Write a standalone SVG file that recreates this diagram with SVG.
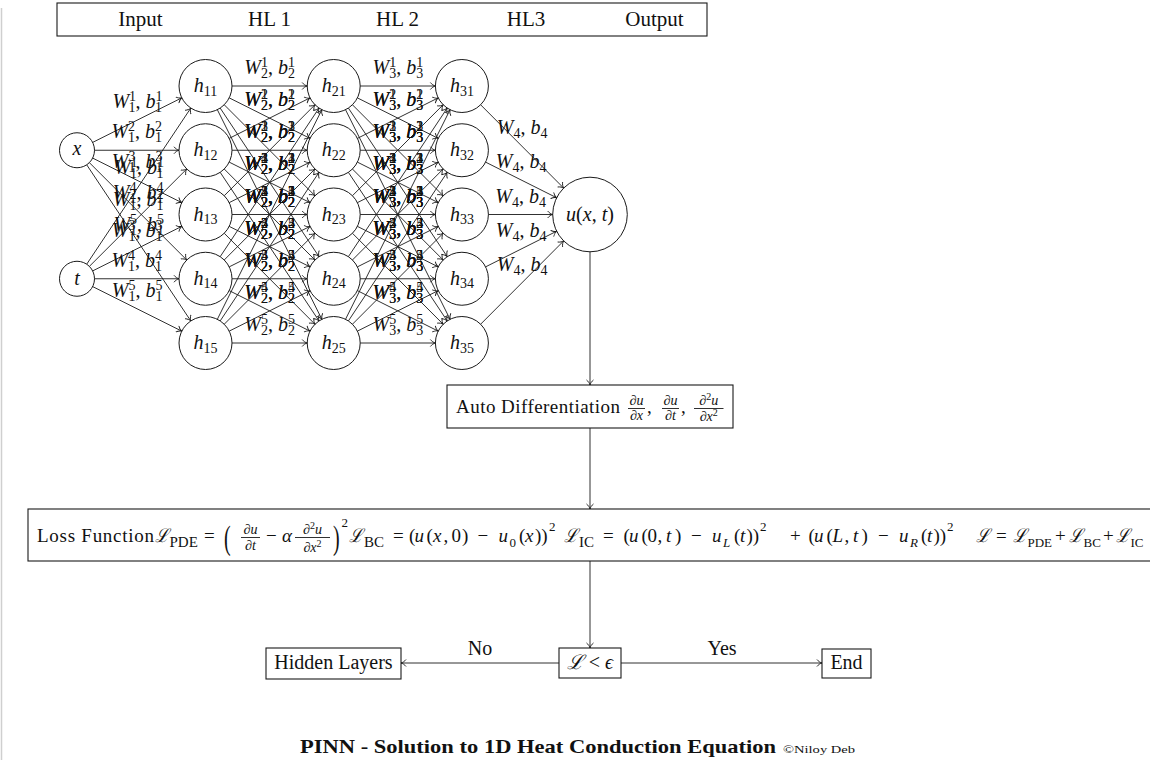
<svg xmlns="http://www.w3.org/2000/svg" width="1150" height="760" viewBox="0 0 1150 760">
<style>
.t{font-family:"Liberation Serif","DejaVu Serif",serif;font-size:19px;fill:#111}
.lb{font-size:20px}
.i{font-style:italic}
.n{font-style:normal}
.sc{font-size:13px;font-style:normal}
.ls{font-size:14px;font-style:normal}
.fr{font-size:14px}
.ln{stroke:#1a1a1a;stroke-width:0.9;fill:none}
.ed line{stroke:#1a1a1a;stroke-width:0.9;marker-end:url(#ar)}
.nd{fill:none;stroke:#1a1a1a;stroke-width:1}
.bx{fill:#fff;stroke:#1a1a1a;stroke-width:1.1}
</style>
<defs>
<marker id="ar" viewBox="-6 -4 7 8" refX="0" refY="0" markerWidth="7" markerHeight="8" orient="auto" markerUnits="userSpaceOnUse"><path d="M-4.8,-3.2 C-3.6,-1.6 -1.6,-0.4 0,0 C-1.6,0.4 -3.6,1.6 -4.8,3.2" fill="none" stroke="#1a1a1a" stroke-width="0.9" stroke-linecap="round"/></marker>
<text id="w1_1" class="t lb i" text-anchor="middle">W<tspan class="ls" dy="-7">1</tspan><tspan class="ls" dx="-7" dy="11">1</tspan><tspan class="n" dy="-4">, </tspan>b<tspan class="ls" dy="-7">1</tspan><tspan class="ls" dx="-7" dy="11">1</tspan></text>
<text id="w1_2" class="t lb i" text-anchor="middle">W<tspan class="ls" dy="-7">2</tspan><tspan class="ls" dx="-7" dy="11">1</tspan><tspan class="n" dy="-4">, </tspan>b<tspan class="ls" dy="-7">2</tspan><tspan class="ls" dx="-7" dy="11">1</tspan></text>
<text id="w1_3" class="t lb i" text-anchor="middle">W<tspan class="ls" dy="-7">3</tspan><tspan class="ls" dx="-7" dy="11">1</tspan><tspan class="n" dy="-4">, </tspan>b<tspan class="ls" dy="-7">3</tspan><tspan class="ls" dx="-7" dy="11">1</tspan></text>
<text id="w1_4" class="t lb i" text-anchor="middle">W<tspan class="ls" dy="-7">4</tspan><tspan class="ls" dx="-7" dy="11">1</tspan><tspan class="n" dy="-4">, </tspan>b<tspan class="ls" dy="-7">4</tspan><tspan class="ls" dx="-7" dy="11">1</tspan></text>
<text id="w1_5" class="t lb i" text-anchor="middle">W<tspan class="ls" dy="-7">5</tspan><tspan class="ls" dx="-7" dy="11">1</tspan><tspan class="n" dy="-4">, </tspan>b<tspan class="ls" dy="-7">5</tspan><tspan class="ls" dx="-7" dy="11">1</tspan></text>
<text id="w2_1" class="t lb i" text-anchor="middle">W<tspan class="ls" dy="-7">1</tspan><tspan class="ls" dx="-7" dy="11">2</tspan><tspan class="n" dy="-4">, </tspan>b<tspan class="ls" dy="-7">1</tspan><tspan class="ls" dx="-7" dy="11">2</tspan></text>
<text id="w2_2" class="t lb i" text-anchor="middle">W<tspan class="ls" dy="-7">2</tspan><tspan class="ls" dx="-7" dy="11">2</tspan><tspan class="n" dy="-4">, </tspan>b<tspan class="ls" dy="-7">2</tspan><tspan class="ls" dx="-7" dy="11">2</tspan></text>
<text id="w2_3" class="t lb i" text-anchor="middle">W<tspan class="ls" dy="-7">3</tspan><tspan class="ls" dx="-7" dy="11">2</tspan><tspan class="n" dy="-4">, </tspan>b<tspan class="ls" dy="-7">3</tspan><tspan class="ls" dx="-7" dy="11">2</tspan></text>
<text id="w2_4" class="t lb i" text-anchor="middle">W<tspan class="ls" dy="-7">4</tspan><tspan class="ls" dx="-7" dy="11">2</tspan><tspan class="n" dy="-4">, </tspan>b<tspan class="ls" dy="-7">4</tspan><tspan class="ls" dx="-7" dy="11">2</tspan></text>
<text id="w2_5" class="t lb i" text-anchor="middle">W<tspan class="ls" dy="-7">5</tspan><tspan class="ls" dx="-7" dy="11">2</tspan><tspan class="n" dy="-4">, </tspan>b<tspan class="ls" dy="-7">5</tspan><tspan class="ls" dx="-7" dy="11">2</tspan></text>
<text id="w3_1" class="t lb i" text-anchor="middle">W<tspan class="ls" dy="-7">1</tspan><tspan class="ls" dx="-7" dy="11">3</tspan><tspan class="n" dy="-4">, </tspan>b<tspan class="ls" dy="-7">1</tspan><tspan class="ls" dx="-7" dy="11">3</tspan></text>
<text id="w3_2" class="t lb i" text-anchor="middle">W<tspan class="ls" dy="-7">2</tspan><tspan class="ls" dx="-7" dy="11">3</tspan><tspan class="n" dy="-4">, </tspan>b<tspan class="ls" dy="-7">2</tspan><tspan class="ls" dx="-7" dy="11">3</tspan></text>
<text id="w3_3" class="t lb i" text-anchor="middle">W<tspan class="ls" dy="-7">3</tspan><tspan class="ls" dx="-7" dy="11">3</tspan><tspan class="n" dy="-4">, </tspan>b<tspan class="ls" dy="-7">3</tspan><tspan class="ls" dx="-7" dy="11">3</tspan></text>
<text id="w3_4" class="t lb i" text-anchor="middle">W<tspan class="ls" dy="-7">4</tspan><tspan class="ls" dx="-7" dy="11">3</tspan><tspan class="n" dy="-4">, </tspan>b<tspan class="ls" dy="-7">4</tspan><tspan class="ls" dx="-7" dy="11">3</tspan></text>
<text id="w3_5" class="t lb i" text-anchor="middle">W<tspan class="ls" dy="-7">5</tspan><tspan class="ls" dx="-7" dy="11">3</tspan><tspan class="n" dy="-4">, </tspan>b<tspan class="ls" dy="-7">5</tspan><tspan class="ls" dx="-7" dy="11">3</tspan></text>
<text id="w4" class="t lb i" text-anchor="middle">W<tspan class="ls" dy="4">4</tspan><tspan class="n" dy="-4">, </tspan>b<tspan class="ls" dy="4">4</tspan></text>
</defs>

<line x1="1.5" y1="8" x2="1.5" y2="760" stroke="#cfcfcf" stroke-width="1.5"/>

<g id="header">
<rect class="bx" x="57" y="3" width="650" height="33"/>
<text class="t" style="font-size:21px" x="140.5" y="26" text-anchor="middle">Input</text>
<text class="t" style="font-size:21px" x="269.5" y="26" text-anchor="middle">HL 1</text>
<text class="t" style="font-size:21px" x="397.5" y="26" text-anchor="middle">HL 2</text>
<text class="t" style="font-size:21px" x="526" y="26" text-anchor="middle">HL3</text>
<text class="t" style="font-size:21px" x="654.5" y="26" text-anchor="middle">Output</text>
</g>

<g id="connectors" class="ed">
<line x1="92.65" y1="142.42" x2="181.8" y2="97.85"/>
<line x1="94.5" y1="150.25" x2="179" y2="150.25"/>
<line x1="92.65" y1="158.08" x2="181.8" y2="202.65"/>
<line x1="89.37" y1="162.62" x2="186.76" y2="260.01"/>
<line x1="86.71" y1="164.81" x2="190.8" y2="320.95"/>
<line x1="86.71" y1="264.19" x2="190.8" y2="108.05"/>
<line x1="89.37" y1="266.38" x2="186.76" y2="168.99"/>
<line x1="92.65" y1="270.92" x2="181.8" y2="226.35"/>
<line x1="94.5" y1="278.75" x2="179" y2="278.75"/>
<line x1="92.65" y1="286.58" x2="181.8" y2="331.15"/>

<line x1="232" y1="86" x2="307.2" y2="86"/>
<line x1="229.19" y1="97.87" x2="310.01" y2="138.38"/>
<line x1="224.22" y1="104.76" x2="314.98" y2="195.74"/>
<line x1="220.18" y1="108.07" x2="319.02" y2="256.68"/>
<line x1="217.33" y1="109.71" x2="321.87" y2="319.29"/>
<line x1="229.19" y1="138.38" x2="310.01" y2="97.87"/>
<line x1="232" y1="150.25" x2="307.2" y2="150.25"/>
<line x1="229.19" y1="162.12" x2="310.01" y2="202.63"/>
<line x1="224.22" y1="169.01" x2="314.98" y2="259.99"/>
<line x1="220.18" y1="172.32" x2="319.02" y2="320.93"/>
<line x1="224.22" y1="195.74" x2="314.98" y2="104.76"/>
<line x1="229.19" y1="202.63" x2="310.01" y2="162.12"/>
<line x1="232" y1="214.5" x2="307.2" y2="214.5"/>
<line x1="229.19" y1="226.37" x2="310.01" y2="266.88"/>
<line x1="224.22" y1="233.26" x2="314.98" y2="324.24"/>
<line x1="220.18" y1="256.68" x2="319.02" y2="108.07"/>
<line x1="224.22" y1="259.99" x2="314.98" y2="169.01"/>
<line x1="229.19" y1="266.88" x2="310.01" y2="226.37"/>
<line x1="232" y1="278.75" x2="307.2" y2="278.75"/>
<line x1="229.19" y1="290.62" x2="310.01" y2="331.13"/>
<line x1="217.33" y1="319.29" x2="321.87" y2="109.71"/>
<line x1="220.18" y1="320.93" x2="319.02" y2="172.32"/>
<line x1="224.22" y1="324.24" x2="314.98" y2="233.26"/>
<line x1="229.19" y1="331.13" x2="310.01" y2="290.62"/>
<line x1="232" y1="343" x2="307.2" y2="343"/>

<line x1="360.2" y1="86" x2="435.4" y2="86"/>
<line x1="357.39" y1="97.87" x2="438.21" y2="138.38"/>
<line x1="352.42" y1="104.76" x2="443.18" y2="195.74"/>
<line x1="348.38" y1="108.07" x2="447.22" y2="256.68"/>
<line x1="345.53" y1="109.71" x2="450.07" y2="319.29"/>
<line x1="357.39" y1="138.38" x2="438.21" y2="97.87"/>
<line x1="360.2" y1="150.25" x2="435.4" y2="150.25"/>
<line x1="357.39" y1="162.12" x2="438.21" y2="202.63"/>
<line x1="352.42" y1="169.01" x2="443.18" y2="259.99"/>
<line x1="348.38" y1="172.32" x2="447.22" y2="320.93"/>
<line x1="352.42" y1="195.74" x2="443.18" y2="104.76"/>
<line x1="357.39" y1="202.63" x2="438.21" y2="162.12"/>
<line x1="360.2" y1="214.5" x2="435.4" y2="214.5"/>
<line x1="357.39" y1="226.37" x2="438.21" y2="266.88"/>
<line x1="352.42" y1="233.26" x2="443.18" y2="324.24"/>
<line x1="348.38" y1="256.68" x2="447.22" y2="108.07"/>
<line x1="352.42" y1="259.99" x2="443.18" y2="169.01"/>
<line x1="357.39" y1="266.88" x2="438.21" y2="226.37"/>
<line x1="360.2" y1="278.75" x2="435.4" y2="278.75"/>
<line x1="357.39" y1="290.62" x2="438.21" y2="331.13"/>
<line x1="345.53" y1="319.29" x2="450.07" y2="109.71"/>
<line x1="348.38" y1="320.93" x2="447.22" y2="172.32"/>
<line x1="352.42" y1="324.24" x2="443.18" y2="233.26"/>
<line x1="357.39" y1="331.13" x2="438.21" y2="290.62"/>
<line x1="360.2" y1="343" x2="435.4" y2="343"/>

<line x1="480.61" y1="104.77" x2="563.67" y2="188.08"/>
<line x1="485.59" y1="162.13" x2="556.66" y2="197.78"/>
<line x1="488.4" y1="214.5" x2="552.7" y2="214.5"/>
<line x1="485.59" y1="266.87" x2="556.66" y2="231.22"/>
<line x1="480.61" y1="324.23" x2="563.67" y2="240.92"/>

<line x1="590" y1="251.8" x2="590" y2="385"/>
<line x1="590" y1="428" x2="590" y2="509"/>
<line x1="590" y1="561" x2="590" y2="648"/>
<line x1="559" y1="663" x2="401" y2="663"/>
<line x1="621" y1="663" x2="822" y2="663"/>
</g>

<g id="edge-labels">
<use href="#w1_1" x="137.2" y="108.1"/>
<use href="#w1_2" x="136.75" y="138.25"/>
<use href="#w1_3" x="137.2" y="168.4"/>
<use href="#w1_4" x="138.07" y="199.3"/>
<use href="#w1_5" x="138.75" y="230.9"/>
<use href="#w1_1" x="138.75" y="174.1"/>
<use href="#w1_2" x="138.07" y="205.7"/>
<use href="#w1_3" x="137.2" y="236.6"/>
<use href="#w1_4" x="136.75" y="266.75"/>
<use href="#w1_5" x="137.2" y="296.9"/>

<use href="#w2_1" x="269.6" y="74"/>
<use href="#w2_2" x="269.6" y="106.1"/>
<use href="#w2_3" x="269.6" y="138.25"/>
<use href="#w2_4" x="269.6" y="170.4"/>
<use href="#w2_5" x="269.6" y="202.5"/>
<use href="#w2_1" x="269.6" y="106.1"/>
<use href="#w2_2" x="269.6" y="138.25"/>
<use href="#w2_3" x="269.6" y="170.4"/>
<use href="#w2_4" x="269.6" y="202.5"/>
<use href="#w2_5" x="269.6" y="234.6"/>
<use href="#w2_1" x="269.6" y="138.25"/>
<use href="#w2_2" x="269.6" y="170.4"/>
<use href="#w2_3" x="269.6" y="202.5"/>
<use href="#w2_4" x="269.6" y="234.6"/>
<use href="#w2_5" x="269.6" y="266.75"/>
<use href="#w2_1" x="269.6" y="170.4"/>
<use href="#w2_2" x="269.6" y="202.5"/>
<use href="#w2_3" x="269.6" y="234.6"/>
<use href="#w2_4" x="269.6" y="266.75"/>
<use href="#w2_5" x="269.6" y="298.9"/>
<use href="#w2_1" x="269.6" y="202.5"/>
<use href="#w2_2" x="269.6" y="234.6"/>
<use href="#w2_3" x="269.6" y="266.75"/>
<use href="#w2_4" x="269.6" y="298.9"/>
<use href="#w2_5" x="269.6" y="331"/>

<use href="#w3_1" x="397.8" y="74"/>
<use href="#w3_2" x="397.8" y="106.1"/>
<use href="#w3_3" x="397.8" y="138.25"/>
<use href="#w3_4" x="397.8" y="170.4"/>
<use href="#w3_5" x="397.8" y="202.5"/>
<use href="#w3_1" x="397.8" y="106.1"/>
<use href="#w3_2" x="397.8" y="138.25"/>
<use href="#w3_3" x="397.8" y="170.4"/>
<use href="#w3_4" x="397.8" y="202.5"/>
<use href="#w3_5" x="397.8" y="234.6"/>
<use href="#w3_1" x="397.8" y="138.25"/>
<use href="#w3_2" x="397.8" y="170.4"/>
<use href="#w3_3" x="397.8" y="202.5"/>
<use href="#w3_4" x="397.8" y="234.6"/>
<use href="#w3_5" x="397.8" y="266.75"/>
<use href="#w3_1" x="397.8" y="170.4"/>
<use href="#w3_2" x="397.8" y="202.5"/>
<use href="#w3_3" x="397.8" y="234.6"/>
<use href="#w3_4" x="397.8" y="266.75"/>
<use href="#w3_5" x="397.8" y="298.9"/>
<use href="#w3_1" x="397.8" y="202.5"/>
<use href="#w3_2" x="397.8" y="234.6"/>
<use href="#w3_3" x="397.8" y="266.75"/>
<use href="#w3_4" x="397.8" y="298.9"/>
<use href="#w3_5" x="397.8" y="331"/>

<use href="#w4" x="522.1" y="134.4"/>
<use href="#w4" x="521.1" y="168"/>
<use href="#w4" x="520.6" y="202.5"/>
<use href="#w4" x="521.1" y="237"/>
<use href="#w4" x="522.1" y="270.6"/>

<text class="t" style="font-size:20px" x="480" y="655" text-anchor="middle">No</text>
<text class="t" style="font-size:20px" x="722" y="655" text-anchor="middle">Yes</text>
</g>

<g id="n-x"><circle class="nd" cx="77" cy="150.25" r="17.5"/><text class="t lb i" x="77" y="155" text-anchor="middle">x</text></g>
<g id="n-t"><circle class="nd" cx="77" cy="278.75" r="17.5"/><text class="t lb i" x="77" y="285" text-anchor="middle">t</text></g>

<g id="n-h11"><circle class="nd" cx="205.5" cy="86" r="26.5"/><text class="t lb" x="205.5" y="92" text-anchor="middle"><tspan class="i">h</tspan><tspan class="ls" dy="3.5">11</tspan></text></g>
<g id="n-h12"><circle class="nd" cx="205.5" cy="150.25" r="26.5"/><text class="t lb" x="205.5" y="156.25" text-anchor="middle"><tspan class="i">h</tspan><tspan class="ls" dy="3.5">12</tspan></text></g>
<g id="n-h13"><circle class="nd" cx="205.5" cy="214.5" r="26.5"/><text class="t lb" x="205.5" y="220.5" text-anchor="middle"><tspan class="i">h</tspan><tspan class="ls" dy="3.5">13</tspan></text></g>
<g id="n-h14"><circle class="nd" cx="205.5" cy="278.75" r="26.5"/><text class="t lb" x="205.5" y="284.75" text-anchor="middle"><tspan class="i">h</tspan><tspan class="ls" dy="3.5">14</tspan></text></g>
<g id="n-h15"><circle class="nd" cx="205.5" cy="343" r="26.5"/><text class="t lb" x="205.5" y="349" text-anchor="middle"><tspan class="i">h</tspan><tspan class="ls" dy="3.5">15</tspan></text></g>

<g id="n-h21"><circle class="nd" cx="333.7" cy="86" r="26.5"/><text class="t lb" x="333.7" y="92" text-anchor="middle"><tspan class="i">h</tspan><tspan class="ls" dy="3.5">21</tspan></text></g>
<g id="n-h22"><circle class="nd" cx="333.7" cy="150.25" r="26.5"/><text class="t lb" x="333.7" y="156.25" text-anchor="middle"><tspan class="i">h</tspan><tspan class="ls" dy="3.5">22</tspan></text></g>
<g id="n-h23"><circle class="nd" cx="333.7" cy="214.5" r="26.5"/><text class="t lb" x="333.7" y="220.5" text-anchor="middle"><tspan class="i">h</tspan><tspan class="ls" dy="3.5">23</tspan></text></g>
<g id="n-h24"><circle class="nd" cx="333.7" cy="278.75" r="26.5"/><text class="t lb" x="333.7" y="284.75" text-anchor="middle"><tspan class="i">h</tspan><tspan class="ls" dy="3.5">24</tspan></text></g>
<g id="n-h25"><circle class="nd" cx="333.7" cy="343" r="26.5"/><text class="t lb" x="333.7" y="349" text-anchor="middle"><tspan class="i">h</tspan><tspan class="ls" dy="3.5">25</tspan></text></g>

<g id="n-h31"><circle class="nd" cx="461.9" cy="86" r="26.5"/><text class="t lb" x="461.9" y="92" text-anchor="middle"><tspan class="i">h</tspan><tspan class="ls" dy="3.5">31</tspan></text></g>
<g id="n-h32"><circle class="nd" cx="461.9" cy="150.25" r="26.5"/><text class="t lb" x="461.9" y="156.25" text-anchor="middle"><tspan class="i">h</tspan><tspan class="ls" dy="3.5">32</tspan></text></g>
<g id="n-h33"><circle class="nd" cx="461.9" cy="214.5" r="26.5"/><text class="t lb" x="461.9" y="220.5" text-anchor="middle"><tspan class="i">h</tspan><tspan class="ls" dy="3.5">33</tspan></text></g>
<g id="n-h34"><circle class="nd" cx="461.9" cy="278.75" r="26.5"/><text class="t lb" x="461.9" y="284.75" text-anchor="middle"><tspan class="i">h</tspan><tspan class="ls" dy="3.5">34</tspan></text></g>
<g id="n-h35"><circle class="nd" cx="461.9" cy="343" r="26.5"/><text class="t lb" x="461.9" y="349" text-anchor="middle"><tspan class="i">h</tspan><tspan class="ls" dy="3.5">35</tspan></text></g>

<g id="n-u"><circle class="nd" cx="590" cy="214.5" r="37.3"/><text class="t lb" x="590" y="220.5" text-anchor="middle"><tspan class="i">u</tspan>(<tspan class="i">x</tspan>, <tspan class="i">t</tspan>)</text></g>

<g id="n-autodiff">
<rect class="bx" x="447" y="385" width="286" height="43"/>
<text class="t" x="456" y="413" textLength="164">Auto Differentiation</text>
<text class="t fr" x="636.5" y="404.5" text-anchor="middle">∂<tspan class="i">u</tspan></text>
<line class="ln" x1="628" y1="408.5" x2="645" y2="408.5"/>
<text class="t fr" x="636.5" y="419.5" text-anchor="middle">∂<tspan class="i">x</tspan></text>
<text class="t" x="647" y="413">,</text>
<text class="t fr" x="670.5" y="404.5" text-anchor="middle">∂<tspan class="i">u</tspan></text>
<line class="ln" x1="662" y1="408.5" x2="679" y2="408.5"/>
<text class="t fr" x="670.5" y="419.5" text-anchor="middle">∂<tspan class="i">t</tspan></text>
<text class="t" x="681" y="413">,</text>
<text class="t fr" x="708.7" y="404.5" text-anchor="middle">∂<tspan font-size="10" dy="-5">2</tspan><tspan class="i" dy="5">u</tspan></text>
<line class="ln" x1="694" y1="408.5" x2="723.5" y2="408.5"/>
<text class="t fr" x="708.7" y="421" text-anchor="middle">∂<tspan class="i">x</tspan><tspan font-size="10" dy="-5">2</tspan></text>
</g>

<g id="n-loss">
<rect class="bx" x="28" y="509" width="1140" height="52"/>
<text class="t" x="37" y="542" textLength="117">Loss Function</text>
<text class="t"><tspan class="i" x="155" y="542" textLength="14" lengthAdjust="spacingAndGlyphs">ℒ</tspan><tspan font-size="15" x="169.5" y="546.5">PDE</tspan><tspan x="204" y="542">=</tspan></text>
<text class="t" style="font-size:20px" transform="translate(224,549) scale(1,1.7)">(</text>
<text class="t fr" x="250.5" y="533.5" text-anchor="middle">∂<tspan class="i">u</tspan></text>
<line class="ln" x1="241" y1="537.5" x2="260" y2="537.5"/>
<text class="t fr" x="250.5" y="550" text-anchor="middle">∂<tspan class="i">t</tspan></text>
<text class="t"><tspan x="266" y="542">−</tspan><tspan class="i" x="282" y="542">α</tspan></text>
<text class="t fr" x="312.5" y="533.5" text-anchor="middle">∂<tspan font-size="10" dy="-5">2</tspan><tspan class="i" dy="5">u</tspan></text>
<line class="ln" x1="295" y1="537.5" x2="330" y2="537.5"/>
<text class="t fr" x="312.5" y="551.5" text-anchor="middle">∂<tspan class="i">x</tspan><tspan font-size="10" dy="-5">2</tspan></text>
<text class="t" style="font-size:20px" transform="translate(333,549) scale(1,1.7)">)</text>
<text class="t"><tspan font-size="13" x="341.5" y="527">2</tspan><tspan class="i" x="349" y="542" textLength="14" lengthAdjust="spacingAndGlyphs">ℒ</tspan><tspan font-size="15" x="364" y="546.5">BC</tspan><tspan x="393" y="542">=</tspan></text>
<text class="t"><tspan x="409" y="542">(</tspan><tspan class="i" x="414.5" y="542">u</tspan><tspan x="426.5" y="542">(</tspan><tspan class="i" x="433" y="542">x</tspan><tspan x="443.5" y="542">,</tspan><tspan x="451.5" y="542">0</tspan><tspan x="462" y="542">)</tspan><tspan x="477.5" y="542">−</tspan><tspan class="i" x="498.5" y="542">u</tspan><tspan font-size="13" x="509.5" y="546.5">0</tspan><tspan x="519" y="542">(</tspan><tspan class="i" x="525" y="542">x</tspan><tspan x="535" y="542">))</tspan><tspan font-size="13" x="549" y="531">2</tspan></text>
<text class="t"><tspan class="i" x="564" y="542" textLength="14" lengthAdjust="spacingAndGlyphs">ℒ</tspan><tspan font-size="15" x="579" y="546.5">IC</tspan><tspan x="603" y="542">=</tspan></text>
<text class="t"><tspan x="623.5" y="542">(</tspan><tspan class="i" x="629" y="542">u</tspan><tspan x="641.5" y="542">(</tspan><tspan x="647.5" y="542">0</tspan><tspan x="657.5" y="542">,</tspan><tspan class="i" x="666" y="542">t</tspan><tspan x="675" y="542">)</tspan><tspan x="691" y="542">−</tspan><tspan class="i" x="712" y="542">u</tspan><tspan class="i" font-size="13" x="723" y="546.5">L</tspan><tspan x="734" y="542">(</tspan><tspan class="i" x="740" y="542">t</tspan><tspan x="746.5" y="542">))</tspan><tspan font-size="13" x="760" y="531">2</tspan></text>
<text class="t"><tspan x="790" y="542">+</tspan><tspan x="808.5" y="542">(</tspan><tspan class="i" x="814" y="542">u</tspan><tspan x="826.5" y="542">(</tspan><tspan class="i" x="832.5" y="542">L</tspan><tspan x="844.5" y="542">,</tspan><tspan class="i" x="853" y="542">t</tspan><tspan x="861.5" y="542">)</tspan><tspan x="878" y="542">−</tspan><tspan class="i" x="899" y="542">u</tspan><tspan class="i" font-size="13" x="910" y="546.5">R</tspan><tspan x="921" y="542">(</tspan><tspan class="i" x="927" y="542">t</tspan><tspan x="933.5" y="542">))</tspan><tspan font-size="13" x="947" y="531">2</tspan></text>
<text class="t"><tspan class="i" x="976" y="542" textLength="14" lengthAdjust="spacingAndGlyphs">ℒ</tspan><tspan x="996" y="542">=</tspan><tspan class="i" x="1013" y="542" textLength="14" lengthAdjust="spacingAndGlyphs">ℒ</tspan><tspan font-size="13" x="1027.5" y="546.5">PDE</tspan><tspan x="1055" y="542">+</tspan><tspan class="i" x="1069" y="542" textLength="14" lengthAdjust="spacingAndGlyphs">ℒ</tspan><tspan font-size="13" x="1083.5" y="546.5">BC</tspan><tspan x="1103" y="542">+</tspan><tspan class="i" x="1116" y="542" textLength="14" lengthAdjust="spacingAndGlyphs">ℒ</tspan><tspan font-size="13" x="1130.5" y="546.5">IC</tspan></text>
</g>

<g id="n-check">
<rect class="bx" x="559" y="648" width="62" height="30"/>
<text class="t lb" x="590" y="669" text-anchor="middle"><tspan class="i">ℒ</tspan> &lt; <tspan class="i">ϵ</tspan></text>
</g>
<g id="n-hidden">
<rect class="bx" x="266" y="648" width="135" height="31"/>
<text class="t lb" x="333.5" y="669" text-anchor="middle">Hidden Layers</text>
</g>
<g id="n-end">
<rect class="bx" x="822" y="649" width="49" height="29"/>
<text class="t lb" x="846.5" y="669" text-anchor="middle">End</text>
</g>

<g id="title">
<text class="t" style="font-size:19px;font-weight:bold" x="300" y="753" textLength="476" lengthAdjust="spacingAndGlyphs">PINN - Solution to 1D Heat Conduction Equation</text>
<text class="t" style="font-size:10px" x="783" y="753" textLength="72" lengthAdjust="spacingAndGlyphs">©Niloy Deb</text>
</g>
</svg>
